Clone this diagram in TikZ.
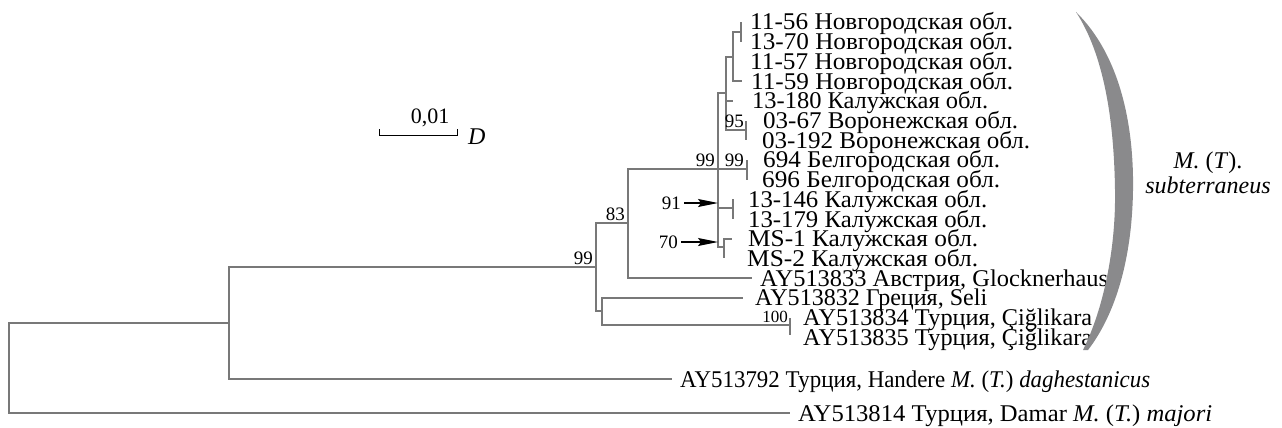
\documentclass[tikz,border=0pt]{standalone}
\usepackage{graphicx}
\usepackage{fontspec}
\setmainfont{Liberation Serif}
\usetikzlibrary{arrows.meta,calc}
\definecolor{br}{RGB}{120,120,120}
\definecolor{brk}{RGB}{138,138,140}
\newcommand{\fitw}[2]{\resizebox{#1pt}{\height}{#2}}
\begin{document}
\begin{tikzpicture}[x=1pt,y=-1pt,
  branch/.style={draw=br,line width=1.8pt},
  leaf/.style={anchor=base west,inner sep=0pt,font=\fontsize{24}{24}\selectfont},
  boot/.style={anchor=south east,inner sep=0pt,font=\fontsize{19}{19}\selectfont},
  ptr/.style={draw=black,line width=1.4pt,-{Stealth[length=20pt,width=8pt,inset=3pt]}},
  scalebar/.style={draw=black,line width=1pt},
]
\useasboundingbox (0,0) rectangle (1282,428);
% internal nodes
\coordinate (root) at (9,368);
\coordinate (nA) at (229,323);
\coordinate (nB) at (596,267);
\coordinate (n83) at (628,223);
\coordinate (nC) at (602,311);
\coordinate (nD) at (718,169);
\coordinate (nF) at (726,93);
\coordinate (nG) at (733,57);
\coordinate (nP) at (741,32);
\coordinate (n95) at (746,130);
\coordinate (n694) at (747,169);
\coordinate (n146) at (733,208);
\coordinate (nMS) at (724,247);
\coordinate (n100) at (790,325);
% leaf ends
\coordinate (e1156) at (741,22);
\coordinate (e1370) at (741,41.7);
\coordinate (e1157) at (733,61.4);
\coordinate (e1159) at (742,81.1);
\coordinate (e13180) at (733,100.8);
\coordinate (e0367) at (746,120.5);
\coordinate (e03192) at (746,140.2);
\coordinate (e694) at (747,159.9);
\coordinate (e696) at (747,179.6);
\coordinate (e13146) at (733,199.3);
\coordinate (e13179) at (733,219);
\coordinate (eMS1) at (732,238.7);
\coordinate (eMS2) at (724,258.4);
\coordinate (e833) at (752,278.1);
\coordinate (e832) at (743,297.8);
\coordinate (e834) at (790,317.5);
\coordinate (e835) at (790,335);
\coordinate (e792) at (672,379);
\coordinate (e814) at (790,413);
% branches
\draw[branch] (root) |- (nA);
\draw[branch] (root) |- (e814);
\draw[branch] (nA) |- (nB);
\draw[branch] (nA) |- (e792);
\draw[branch] (nB) |- (n83);
\draw[branch] (nB) |- (nC);
\draw[branch] (n83) |- (nD);
\draw[branch] (n83) |- (e833);
\draw[branch] (nC) |- (e832);
\draw[branch] (nC) |- (n100);
\draw[branch] (n100) |- (e834);
\draw[branch] (n100) |- (e835);
\draw[branch] (nD) |- (nF);
\draw[branch] (nD) |- (nMS);
\draw[branch] (nD) -- (n694);
\draw[branch] (nD) |- (n146);
\draw[branch] (nF) |- (nG);
\draw[branch] (nF) |- (e13180);
\draw[branch] (nF) |- (n95);
\draw[branch] (nG) |- (nP);
\draw[branch] (nG) |- (e1159);
\draw[branch] (nP) |- (e1156);
\draw[branch] (nP) |- (e1370);
\draw[branch] (n95) |- (e0367);
\draw[branch] (n95) |- (e03192);
\draw[branch] (n694) |- (e694);
\draw[branch] (n694) |- (e696);
\draw[branch] (n146) |- (e13146);
\draw[branch] (n146) |- (e13179);
\draw[branch] (nMS) |- (eMS1);
\draw[branch] (nMS) |- (eMS2);
% leaf labels
\node[leaf] (t1156) at (750,30) {\fitw{263}{11-56 Новгородская обл.}};
\node[leaf] (t1370) at (750,49.7) {\fitw{263}{13-70 Новгородская обл.}};
\node[leaf] (t1157) at (750,69.4) {\fitw{263}{11-57 Новгородская обл.}};
\node[leaf] (t1159) at (751,89.1) {\fitw{262}{11-59 Новгородская обл.}};
\node[leaf] (t13180) at (752,108.8) {\fitw{236}{13-180 Калужская обл.}};
\node[leaf] (t0367) at (763,128.5) {\fitw{255}{03-67 Воронежская обл.}};
\node[leaf] (t03192) at (762,148.2) {\fitw{268}{03-192 Воронежская обл.}};
\node[leaf] (t694) at (763,167.9) {\fitw{237}{694 Белгородская обл.}};
\node[leaf] (t696) at (762,187.6) {\fitw{238}{696 Белгородская обл.}};
\node[leaf] (t13146) at (748,207.3) {\fitw{239}{13-146 Калужская обл.}};
\node[leaf] (t13179) at (748,227) {\fitw{239}{13-179 Калужская обл.}};
\node[leaf] (tMS1) at (748,246.7) {\fitw{230}{MS-1 Калужская обл.}};
\node[leaf] (tMS2) at (747,266.4) {\fitw{231}{MS-2 Калужская обл.}};
\node[leaf] (t833) at (760,286.1) {\fitw{348}{AY513833 Австрия, Glocknerhaus}};
\node[leaf] (t832) at (755,305.8) {\fitw{232}{AY513832 Греция, Seli}};
\node[leaf] (t834) at (803,325.5) {\fitw{289}{AY513834 Турция, Çiğlikara}};
\node[leaf] (t835) at (803,345.2) {\fitw{289}{AY513835 Турция, Çiğlikara}};
\node[leaf] (t792) at (680,387) {\fitw{470}{AY513792 Турция, Handere \textit{M.} (\textit{T.}) \textit{daghestanicus}}};
\node[leaf] (t814) at (798,421) {\fitw{414}{AY513814 Турция, Damar \textit{M.} (\textit{T.}) \textit{majori}}};
% bootstrap values
\node[boot] (b95) at (744,128) {95};
\node[boot] (b99d) at (715,167) {99};
\node[boot] (b99p) at (744,167) {99};
\node[boot] (b83) at (625,221) {83};
\node[boot] (b99b) at (593,265) {99};
\node[boot,font=\fontsize{17}{17}\selectfont] (b100) at (788,323) {100};
\node[boot,anchor=east] (b91) at (681,203) {91};
\node[boot,anchor=east] (b70) at (678,242) {70};
\coordinate (a91) at (718,205);
\coordinate (a70) at (718,244);
\draw[ptr] (b91.east) ++(3,0) coordinate (s91) (s91) -- (a91 |- s91);
\draw[ptr] (b70.east) ++(3,0) coordinate (s70) (s70) -- (a70 |- s70);
% scale bar
\coordinate (sbl) at (379,135);
\coordinate (sbr) at (457,135);
\draw[scalebar] ($(sbl)+(0,-6)$) -- (sbl) -- (sbr) -- ++(0,-6);
\node[font=\fontsize{22}{22}\selectfont,inner sep=0pt,anchor=south] (sbt) at (430,127) {0,01};
\node[font=\fontsize{24}{24}\selectfont\itshape,inner sep=0pt,anchor=west] (sbd) at (468,137) {D};
% bracket
\fill[brk] (1076,12) .. controls (1120,55) and (1134,125) .. (1133,190)
  .. controls (1132,260) and (1115,315) .. (1088,350)
  -- (1083,350)
  .. controls (1103,310) and (1116,250) .. (1115,190)
  .. controls (1114,120) and (1104,55) .. (1076,12) -- cycle;
\node[font=\fontsize{24}{24}\selectfont,inner sep=0pt,anchor=base] (clade1) at (1208,168) {\textit{M.} (\textit{T}).};
\node[font=\fontsize{24}{24}\selectfont\itshape,inner sep=0pt,anchor=base] (clade2) at (1208,193) {subterraneus};
\end{tikzpicture}
\end{document}
